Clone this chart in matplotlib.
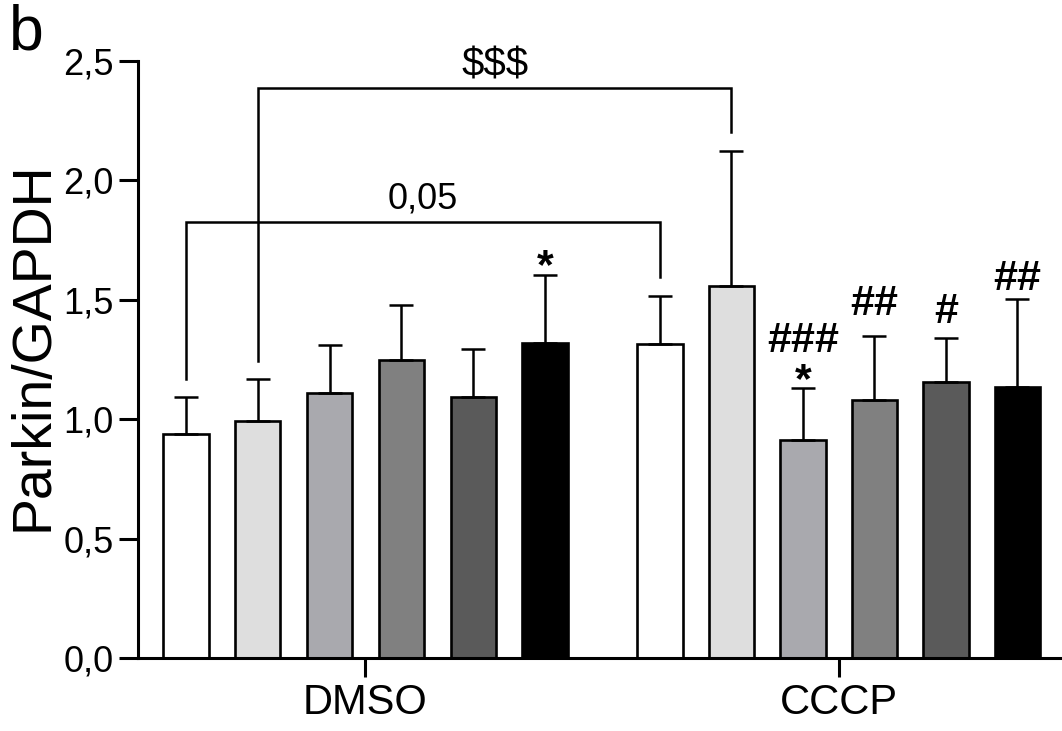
import numpy as np
import matplotlib
matplotlib.use("Agg")
import matplotlib.pyplot as plt

plt.rcParams['font.family'] = ['Liberation Sans', 'DejaVu Sans']

# data
groups = ['DMSO', 'CCCP']
dmso_mean = [0.938, 0.992, 1.110, 1.248, 1.093, 1.319]
dmso_err = [0.155, 0.176, 0.201, 0.230, 0.201, 0.285]
cccp_mean = [1.315, 1.558, 0.913, 1.080, 1.156, 1.135]
cccp_err = [0.201, 0.565, 0.218, 0.268, 0.184, 0.368]
bar_colors = ['#ffffff', '#dedede', '#a9a9ae', '#808080', '#5a5a5a', '#000000']
yticks = [0.0, 0.5, 1.0, 1.5, 2.0, 2.5]
ytick_labels = ['0,0', '0,5', '1,0', '1,5', '2,0', '2,5']

# marks above bars: (group, bar, text, offset px above error cap)
marks = [(0, 5, '*', -3), (1, 2, '*', -4.5), (1, 2, '###', 36),
         (1, 3, '##', 21), (1, 4, '#', 15), (1, 5, '##', 9)]

# brackets: (group a, bar a, group b, bar b, top, text)
brackets = [(0, 1, 1, 1, 2.387, '$$$'), (0, 0, 1, 0, 1.825, '0,05')]

fig = plt.figure(figsize=(10.62, 7.31), dpi=100)
ax = fig.add_axes([138 / 1062, 1 - 658 / 731, 1 - 138 / 1062, (658 - 61) / 731])

gap = 6.6
width = 0.63
xs = [np.arange(6) * 1.0, gap + np.arange(6) * 0.996]
means = [dmso_mean, cccp_mean]
errs = [dmso_err, cccp_err]

for g in range(2):
    ax.bar(xs[g], means[g], width=width, color=bar_colors,
           edgecolor='black', linewidth=1.9, zorder=2)
    ax.errorbar(xs[g], means[g], yerr=[np.zeros(6), errs[g]], fmt='none',
                ecolor='black', elinewidth=1.8, capsize=8.6, capthick=1.8, zorder=3)

for g, i, txt, off in marks:
    top = means[g][i] + errs[g][i]
    ax.annotate(txt, xy=(xs[g][i], top), xytext=(0, off * 0.72),
                textcoords='offset points', ha='center', va='baseline',
                fontsize=31, fontweight='bold', annotation_clip=False)

for ga, ia, gb, ib, ytop, txt in brackets:
    xa, xb = xs[ga][ia], xs[gb][ib]
    ya = means[ga][ia] + errs[ga][ia] + 0.075
    yb = means[gb][ib] + errs[gb][ib] + 0.08
    ax.plot([xa, xa, xb, xb], [ya, ytop, ytop, yb], color='black',
            lw=1.8, clip_on=False, zorder=4, solid_joinstyle='miter')

ax.text((xs[0][1] + xs[1][1]) / 2, 2.433, '$$$', ha='center', va='baseline',
        fontsize=29)
ax.text((xs[0][0] + xs[1][0]) / 2, 1.884, '0,05', ha='center', va='baseline',
        fontsize=26)

ax.set_xlim(-0.668, 12.2)
ax.set_ylim(0, 2.5)
ax.set_yticks(yticks)
ax.set_yticklabels(ytick_labels, fontsize=26)
ax.set_xticks([xs[0].mean(), xs[1].mean()])
ax.set_xticklabels(groups, fontsize=30)
ax.tick_params(axis='y', length=13.7, width=2.2, pad=4)
ax.tick_params(axis='x', length=14, width=2.2, pad=4)
for s in ['top', 'right']:
    ax.spines[s].set_visible(False)
for s in ['left', 'bottom']:
    ax.spines[s].set_linewidth(2.2)

fig.text(34 / 1062, 1 - 346 / 731, 'Parkin/GAPDH', rotation=90,
         ha='center', va='center', fontsize=40)
fig.text(26 / 1062, 1 - 33 / 731, 'b', ha='center', va='center', fontsize=45)

fig.savefig('out.png', dpi=100)
